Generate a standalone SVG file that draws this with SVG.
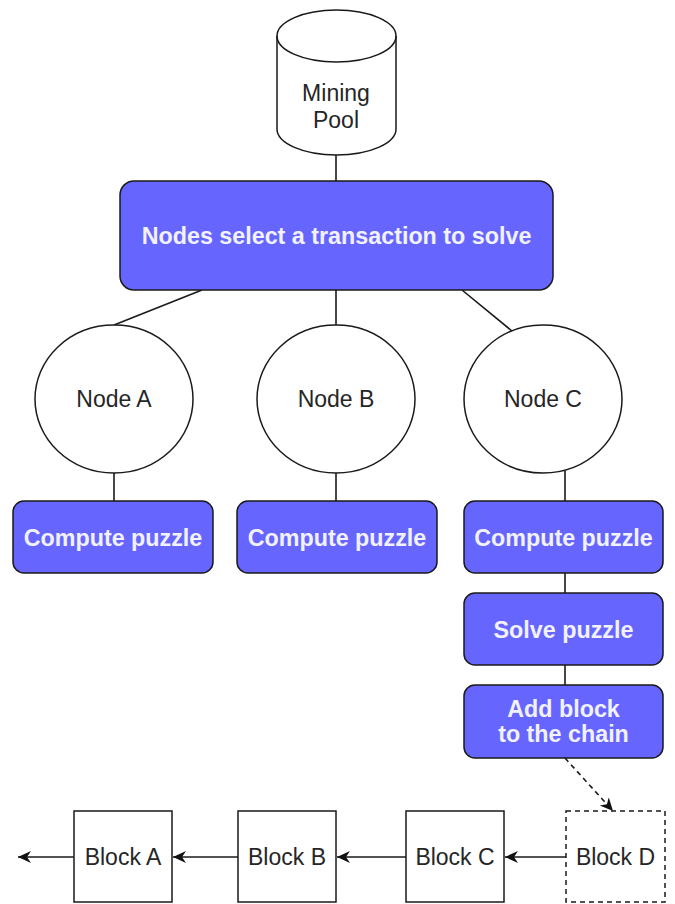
<svg xmlns="http://www.w3.org/2000/svg" width="675" height="904" viewBox="0 0 675 904">
<style>
.bg{fill:#ffffff}
.blue{fill:#6666FF;stroke:#1a1a1a;stroke-width:1.5}
.white{fill:#ffffff;stroke:#1a1a1a;stroke-width:1.5}
.dash{fill:#ffffff;stroke:#1a1a1a;stroke-width:1.5;stroke-dasharray:5 4}
.edge{fill:none;stroke:#1a1a1a;stroke-width:1.6}
.t{font-family:"Liberation Sans",Arial,sans-serif;font-size:23px;fill:#262626;text-anchor:middle}
.tb{font-family:"Liberation Sans",Arial,sans-serif;font-size:23.3px;font-weight:bold;fill:#F2F2FF;text-anchor:middle}
</style>
<defs>
<marker id="arr" markerWidth="16" markerHeight="14" refX="13" refY="7" orient="auto" markerUnits="userSpaceOnUse">
<path d="M0,1 L13,7 L0,13 L4,7 Z" fill="#111111"/>
</marker>
</defs>
<rect class="bg" x="0" y="0" width="675" height="904"/>
<g id="connectors">
<line class="edge" x1="336" y1="155" x2="336" y2="181"/>
<line class="edge" x1="202" y1="290" x2="114" y2="325"/>
<line class="edge" x1="336" y1="290" x2="336" y2="325"/>
<line class="edge" x1="462" y1="290" x2="512" y2="331"/>
<line class="edge" x1="114" y1="473" x2="114" y2="501"/>
<line class="edge" x1="336" y1="473" x2="336" y2="501"/>
<line class="edge" x1="565" y1="471" x2="565" y2="501"/>
<line class="edge" x1="565" y1="573" x2="565" y2="593"/>
<line class="edge" x1="565" y1="665" x2="565" y2="685"/>
<line class="edge" x1="565" y1="758" x2="613" y2="811" stroke-dasharray="5 4" marker-end="url(#arr)"/>
<line class="edge" x1="566" y1="857" x2="505" y2="857" marker-end="url(#arr)"/>
<line class="edge" x1="406" y1="857" x2="337" y2="857" marker-end="url(#arr)"/>
<line class="edge" x1="238" y1="857" x2="173" y2="857" marker-end="url(#arr)"/>
<line class="edge" x1="74" y1="857" x2="18" y2="857" marker-end="url(#arr)"/>
</g>
<g id="mining-pool">
<path class="white" d="M277,36 A59.5,26 0 0 1 396,36 L396,129 A59.5,26 0 0 1 277,129 Z"/>
<path class="edge" d="M277,36 A59.5,26 0 0 0 396,36"/>
<text class="t" x="336" y="101">Mining</text>
<text class="t" x="336" y="128">Pool</text>
</g>
<g id="select">
<rect class="blue" x="120" y="181" width="433" height="109" rx="14"/>
<text class="tb" x="336.5" y="244">Nodes select a transaction to solve</text>
</g>
<g id="node-a">
<ellipse class="white" cx="114" cy="399" rx="79" ry="74"/>
<text class="t" x="114" y="407">Node A</text>
</g>
<g id="node-b">
<ellipse class="white" cx="336" cy="399" rx="79" ry="74"/>
<text class="t" x="336" y="407">Node B</text>
</g>
<g id="node-c">
<ellipse class="white" cx="543" cy="399" rx="79" ry="74"/>
<text class="t" x="543" y="407">Node C</text>
</g>
<g id="compute-a">
<rect class="blue" x="13" y="501" width="200" height="72" rx="11"/>
<text class="tb" x="113" y="545.5">Compute puzzle</text>
</g>
<g id="compute-b">
<rect class="blue" x="237" y="501" width="200" height="72" rx="11"/>
<text class="tb" x="337" y="545.5">Compute puzzle</text>
</g>
<g id="compute-c">
<rect class="blue" x="464" y="501" width="199" height="72" rx="11"/>
<text class="tb" x="563.5" y="545.5">Compute puzzle</text>
</g>
<g id="solve">
<rect class="blue" x="464" y="593" width="199" height="72" rx="11"/>
<text class="tb" x="563.5" y="637.5">Solve puzzle</text>
</g>
<g id="add-block">
<rect class="blue" x="464" y="685" width="199" height="73" rx="11"/>
<text class="tb" x="563.5" y="717">Add block</text>
<text class="tb" x="563.5" y="742">to the chain</text>
</g>
<g id="block-a">
<rect class="white" x="74" y="811" width="98" height="91"/>
<text class="t" x="123" y="865">Block A</text>
</g>
<g id="block-b">
<rect class="white" x="238" y="811" width="98" height="91"/>
<text class="t" x="287" y="865">Block B</text>
</g>
<g id="block-c">
<rect class="white" x="406" y="811" width="98" height="91"/>
<text class="t" x="455" y="865">Block C</text>
</g>
<g id="block-d">
<rect class="dash" x="566" y="811" width="99" height="91"/>
<text class="t" x="615.5" y="865">Block D</text>
</g>
</svg>
